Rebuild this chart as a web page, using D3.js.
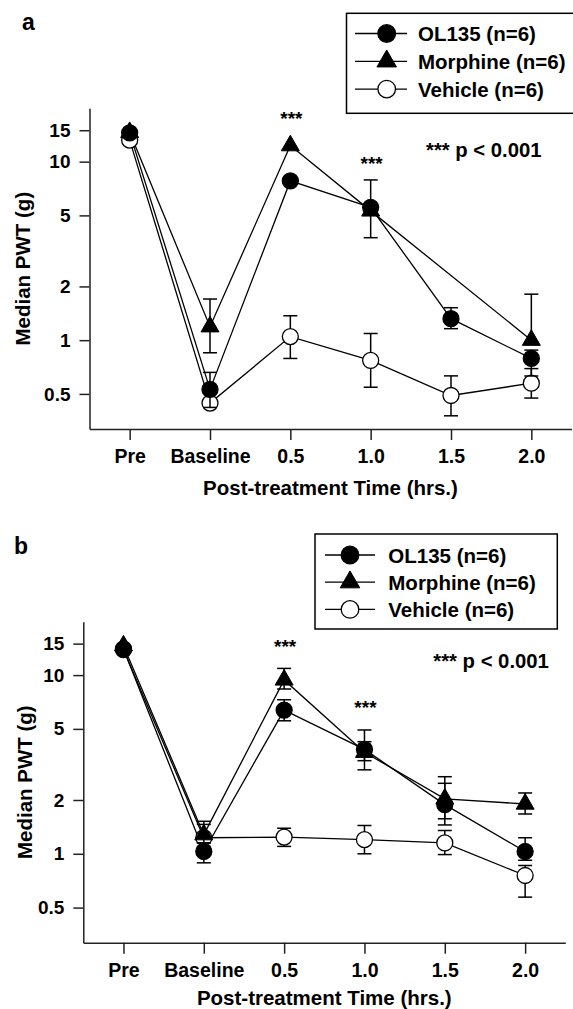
<!DOCTYPE html>
<html>
<head>
<meta charset="utf-8">
<script src="https://cdn.jsdelivr.net/npm/d3@7"></script>
<style>
    body { margin: 0; background: #fff; }
    svg { display: block; }
    text { font-family: "Liberation Sans", Arial, Helvetica, sans-serif; font-weight: bold; fill: #000; }
</style>
</head>
<body>
<div id="chart"></div>
<script>
// categories and ticks
const timeLabels = ['Pre', 'Baseline', '0.5', '1.0', '1.5', '2.0'];
const yTickValues = [0.5, 1, 2, 5, 10, 15];
const legendNames = ['OL135 (n=6)', 'Morphine (n=6)', 'Vehicle (n=6)'];

// panel a: median PWT (g) and error bar ends
const aOL135 = [14.5, 0.53, 7.8, 5.55, 1.32, 0.79];
const aOL135Lo = [null, 0.42, null, 3.75, 1.16, 0.63];
const aOL135Hi = [null, 0.66, null, 7.9, 1.52, 0.88];
const aMorphine = [14.6, 1.19, 12.3, 5.3, null, 1.0];
const aMorphineLo = [null, 0.85, null, null, null, 0.975];
const aMorphineHi = [null, 1.70, null, null, null, 1.81];
const aVehicle = [13.2, 0.444, 1.047, 0.77, 0.49, 0.574];
const aVehicleLo = [null, null, 0.79, 0.545, 0.377, 0.474];
const aVehicleHi = [null, null, 1.37, 1.09, 0.631, 0.693];

// panel b
const bOL135 = [14.0, 1.03, 6.37, 3.84, 1.885, 1.03];
const bOL135Lo = [null, 0.89, 5.55, 2.95, 1.57, 0.92];
const bOL135Hi = [null, 1.15, 7.28, 4.93, 2.48, 1.23];
const bMorphine = [14.6, 1.28, 9.4, 3.7, 2.03, 1.90];
const bMorphineLo = [null, 1.15, 8.36, 3.32, 1.45, 1.67];
const bMorphineHi = [null, 1.52, 10.9, 4.24, 2.70, 2.19];
const bVehicle = [13.9, 1.23, 1.24, 1.20, 1.15, 0.756];
const bVehicleLo = [null, 1.1, 1.10, 1.0, 0.99, 0.572];
const bVehicleHi = [null, 1.46, 1.39, 1.44, 1.35, 0.86];

const svg = d3.select('#chart').append('svg').attr('width', 573).attr('height', 1009);

// layout of each panel
const panels = [
    {
        label: 'a', labelX: 22, labelY: 29.5,
        left: 89.5, right: 571.5, top: 108.3, bottom: 429,
        yTitleX: 30, xTitleY: 494.5,
        legend: { x: 346.5, y: 13.3, w: 232, h: 100, rowY: 33.5, rowStep: 27.8, lineX0: 355, lineX1: 407, markX: 386.7, textX: 418 },
        stars: [{ i: 2, y: 124.5 }, { i: 3, y: 169.5 }],
        pX: 426, pY: 156.7,
        series: [
            { name: 'Vehicle', values: aVehicle, lo: aVehicleLo, hi: aVehicleHi, shape: 'open' },
            { name: 'Morphine', values: aMorphine, lo: aMorphineLo, hi: aMorphineHi, shape: 'triangle' },
            { name: 'OL135', values: aOL135, lo: aOL135Lo, hi: aOL135Hi, shape: 'filled' }
        ]
    },
    {
        label: 'b', labelX: 14, labelY: 553.5,
        left: 83.3, right: 565.3, top: 621.7, bottom: 942.7,
        yTitleX: 31.5, xTitleY: 1005,
        legend: { x: 315, y: 534, w: 242.3, h: 95, rowY: 555, rowStep: 27.2, lineX0: 325, lineX1: 375, markX: 350, textX: 388.3 },
        stars: [{ i: 2, y: 652.6 }, { i: 3, y: 714.3 }],
        pX: 433.3, pY: 668,
        series: [
            { name: 'Vehicle', values: bVehicle, lo: bVehicleLo, hi: bVehicleHi, shape: 'open' },
            { name: 'Morphine', values: bMorphine, lo: bMorphineLo, hi: bMorphineHi, shape: 'triangle' },
            { name: 'OL135', values: bOL135, lo: bOL135Lo, hi: bOL135Hi, shape: 'filled' }
        ]
    }
];

const legendShapes = ['filled', 'triangle', 'open'];

panels.forEach(drawPanel);

function drawMarker(g, shape, cx, cy, big) {
    if (shape === 'triangle') {
        g.append('path')
            .attr('d', d3.symbol(d3.symbolTriangle, big ? 165 : 140)())
            .attr('transform', `translate(${cx},${cy})`)
            .attr('fill', '#000').attr('stroke', '#000').attr('stroke-width', 1);
    } else {
        g.append('circle')
            .attr('cx', cx).attr('cy', cy).attr('r', big ? 8.8 : 8)
            .attr('fill', shape === 'open' ? '#fff' : '#000')
            .attr('stroke', '#000').attr('stroke-width', 1.3);
    }
}

function drawPanel(p) {
    const g = svg.append('g');

    const x = d3.scaleLinear().domain([-0.5, 5.5]).range([p.left, p.right]);
    const y = d3.scaleLog().domain([0.318, 19.9]).range([p.bottom, p.top]);

    // y axis
    const yAxis = d3.axisLeft(y)
        .tickValues(yTickValues)
        .tickFormat(d => String(d))
        .tickSize(10).tickSizeOuter(0).tickPadding(9);
    const ya = g.append('g').attr('transform', `translate(${p.left},0)`).call(yAxis)
        .attr('font-family', null).attr('font-size', null);
    ya.selectAll('path, line').attr('stroke', '#222').attr('stroke-width', 1.5);
    ya.selectAll('text').style('font-size', '19px');

    // x axis
    const xAxis = d3.axisBottom(x)
        .tickValues(d3.range(timeLabels.length))
        .tickFormat(i => timeLabels[i])
        .tickSize(11).tickSizeOuter(0).tickPadding(9.5);
    const xa = g.append('g').attr('transform', `translate(0,${p.bottom})`).call(xAxis)
        .attr('font-family', null).attr('font-size', null);
    xa.selectAll('path, line').attr('stroke', '#222').attr('stroke-width', 1.5);
    xa.selectAll('text').style('font-size', '19.5px');

    // axis titles
    g.append('text')
        .attr('transform', `translate(${p.yTitleX},${(p.top + p.bottom) / 2}) rotate(-90)`)
        .attr('text-anchor', 'middle')
        .style('font-size', '20.5px')
        .text('Median PWT (g)');
    g.append('text')
        .attr('x', (p.left + p.right) / 2).attr('y', p.xTitleY)
        .attr('text-anchor', 'middle')
        .style('font-size', '20.5px')
        .text('Post-treatment Time (hrs.)');

    // panel letter
    g.append('text')
        .attr('x', p.labelX).attr('y', p.labelY)
        .style('font-size', '23px')
        .text(p.label);

    // series lines
    const line = d3.line().x(d => x(d.i)).y(d => y(d.v));
    p.series.forEach(s => {
        const pts = s.values.map((v, i) => ({ i, v })).filter(d => d.v != null);
        g.append('path')
            .attr('d', line(pts))
            .attr('fill', 'none').attr('stroke', '#000').attr('stroke-width', 1.3);
    });

    // error bars then markers, per series
    p.series.forEach(s => {
        s.values.forEach((v, i) => {
            if (s.lo[i] != null || s.hi[i] != null) {
                const lo = s.lo[i] != null ? s.lo[i] : v;
                const hi = s.hi[i] != null ? s.hi[i] : v;
                const cx = x(i);
                g.append('line')
                    .attr('x1', cx).attr('x2', cx).attr('y1', y(lo)).attr('y2', y(hi))
                    .attr('stroke', '#000').attr('stroke-width', 1.5);
                [s.lo[i], s.hi[i]].forEach(e => {
                    if (e == null) return;
                    g.append('line')
                        .attr('x1', cx - 7).attr('x2', cx + 7).attr('y1', y(e)).attr('y2', y(e))
                        .attr('stroke', '#000').attr('stroke-width', 1.5);
                });
            }
        });
        s.values.forEach((v, i) => {
            if (v == null) return;
            drawMarker(g, s.shape, x(i), y(v), false);
        });
    });

    // significance marks
    p.stars.forEach(st => {
        g.append('text')
            .attr('x', x(st.i) + 1).attr('y', st.y)
            .attr('text-anchor', 'middle')
            .style('font-size', '19px')
            .text('***');
    });
    g.append('text')
        .attr('x', p.pX).attr('y', p.pY)
        .style('font-size', '20.3px')
        .text('*** p < 0.001');

    // legend
    const L = p.legend;
    const lg = g.append('g');
    lg.append('rect')
        .attr('x', L.x).attr('y', L.y).attr('width', L.w).attr('height', L.h)
        .attr('fill', '#fff').attr('stroke', '#000').attr('stroke-width', 1.5);
    legendNames.forEach((name, k) => {
        const ry = L.rowY + k * L.rowStep;
        lg.append('line')
            .attr('x1', L.lineX0).attr('x2', L.lineX1).attr('y1', ry).attr('y2', ry)
            .attr('stroke', '#000').attr('stroke-width', 1.3);
        drawMarker(lg, legendShapes[k], L.markX, ry, true);
        lg.append('text')
            .attr('x', L.textX).attr('y', ry + 7.5)
            .style('font-size', '20.5px')
            .text(name);
    });
}
</script>
</body>
</html>
